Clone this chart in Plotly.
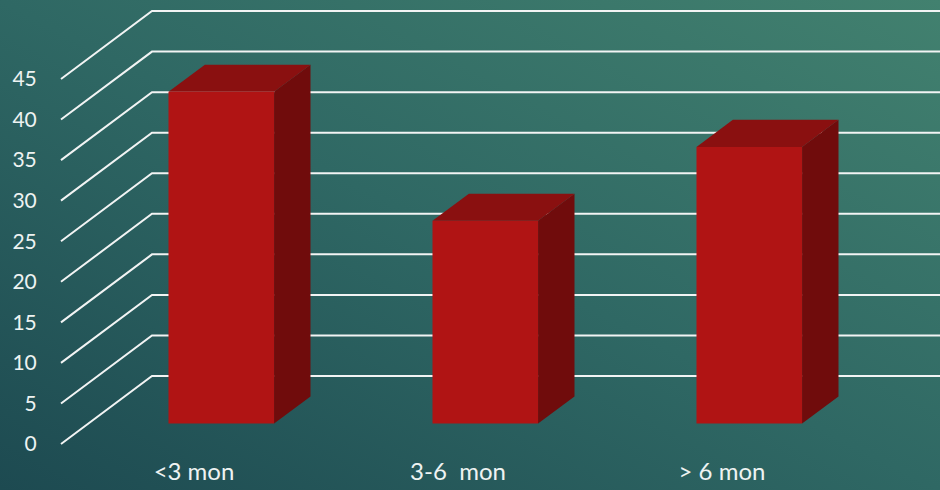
import base64
import plotly.graph_objects as go

# ---- data ----
categories = ["<3 mon", "3-6  mon", "> 6 mon"]
values = [40.9, 25.0, 34.1]
tick_values = [0, 5, 10, 15, 20, 25, 30, 35, 40, 45]
tick_labels = [str(v) for v in tick_values]

# ---- geometry of the oblique 3D projection (in axis units) ----
DX, DY = 0.3447, 8.38        # full depth shift of the floor/back wall
BAR_FRONT = 0.30             # depth fraction of bar front face
BAR_DEPTH = 0.40             # depth fraction occupied by bar
BAR_W = 0.40                 # bar width in category units
AXIS_X = -0.5038             # front y-axis position
X_RANGE = [-0.553, 2.8258]
Y_RANGE = [-1.356, 54.74]

FRONT_C = "#b01414"
TOP_C = "#8a1010"
SIDE_C = "#700c0c"
GRID_C = "#f2f4f4"
TEXT_C = "#eef3f2"
FONT = "Lato"

fig = go.Figure()

# gridlines: diagonal on the left wall + horizontal on the back wall
gx, gy = [], []
for v in tick_values:
    gx += [AXIS_X, AXIS_X + DX, X_RANGE[1] + 0.2, None]
    gy += [v, v + DY, v + DY, None]
fig.add_trace(go.Scatter(x=gx, y=gy, mode="lines",
                         line=dict(color=GRID_C, width=2),
                         hoverinfo="skip", showlegend=False))

# bars
fx, fy = DX * BAR_FRONT, DY * BAR_FRONT
bx, by = DX * BAR_DEPTH, DY * BAR_DEPTH
for i, v in enumerate(values):
    x0 = i + fx - BAR_W / 2
    x1 = i + fx + BAR_W / 2
    y0 = fy
    y1 = fy + v
    # side face
    fig.add_trace(go.Scatter(
        x=[x1, x1 + bx, x1 + bx, x1, x1],
        y=[y0, y0 + by, y1 + by, y1, y0],
        fill="toself", fillcolor=SIDE_C, mode="lines",
        line=dict(width=0, color=SIDE_C), hoverinfo="skip", showlegend=False))
    # top face
    fig.add_trace(go.Scatter(
        x=[x0, x1, x1 + bx, x0 + bx, x0],
        y=[y1, y1, y1 + by, y1 + by, y1],
        fill="toself", fillcolor=TOP_C, mode="lines",
        line=dict(width=0, color=TOP_C), hoverinfo="skip", showlegend=False))
    # front face
    fig.add_trace(go.Scatter(
        x=[x0, x1, x1, x0, x0],
        y=[y0, y0, y1, y1, y0],
        fill="toself", fillcolor=FRONT_C, mode="lines",
        line=dict(width=0, color=FRONT_C), hoverinfo="skip", showlegend=False))

# background gradient as an SVG image
svg = (
    '<svg xmlns="http://www.w3.org/2000/svg" width="940" height="490" '
    'preserveAspectRatio="none" viewBox="0 0 940 490">'
    '<defs><linearGradient id="g" x1="0" y1="1" x2="1" y2="0">'
    '<stop offset="0" stop-color="#1d4a51"/>'
    '<stop offset="0.5" stop-color="#2f6864"/>'
    '<stop offset="1" stop-color="#42816f"/>'
    '</linearGradient></defs>'
    '<rect width="940" height="490" fill="url(#g)"/></svg>'
)
src = "data:image/svg+xml;base64," + base64.b64encode(svg.encode()).decode()

ML, MR, MT, MB = 48, 0, 0, 35
PW, PH = 940 - ML - MR, 490 - MT - MB

fig.update_layout(
    width=940, height=490,
    margin=dict(l=ML, r=MR, t=MT, b=MB, pad=0),
    paper_bgcolor="#2c6260",
    plot_bgcolor="rgba(0,0,0,0)",
    showlegend=False,
    images=[dict(source=src, xref="paper", yref="paper",
                 x=-ML / PW, y=1 + MT / PH, sizex=940 / PW, sizey=490 / PH,
                 xanchor="left", yanchor="top", sizing="stretch",
                 layer="below")],
    font=dict(family=FONT, color=TEXT_C, size=20),
    xaxis=dict(range=X_RANGE, showgrid=False, zeroline=False, showline=False,
               tickmode="array", tickvals=[0, 1, 2], ticktext=categories,
               ticks="", tickcolor="rgba(0,0,0,0)",
               tickfont=dict(size=24, family=FONT, color=TEXT_C),
               fixedrange=True),
    yaxis=dict(range=Y_RANGE, showgrid=False, zeroline=False, showline=False,
               tickmode="array", tickvals=tick_values, ticktext=tick_labels,
               ticks="outside", ticklen=6, tickcolor="rgba(0,0,0,0)",
               tickfont=dict(size=21, family=FONT, color=TEXT_C),
               fixedrange=True),
)

fig.write_html(
    "out.html",
    config={"displayModeBar": False},
    post_script="document.body.style.margin='0';document.body.style.overflow='hidden';",
)
